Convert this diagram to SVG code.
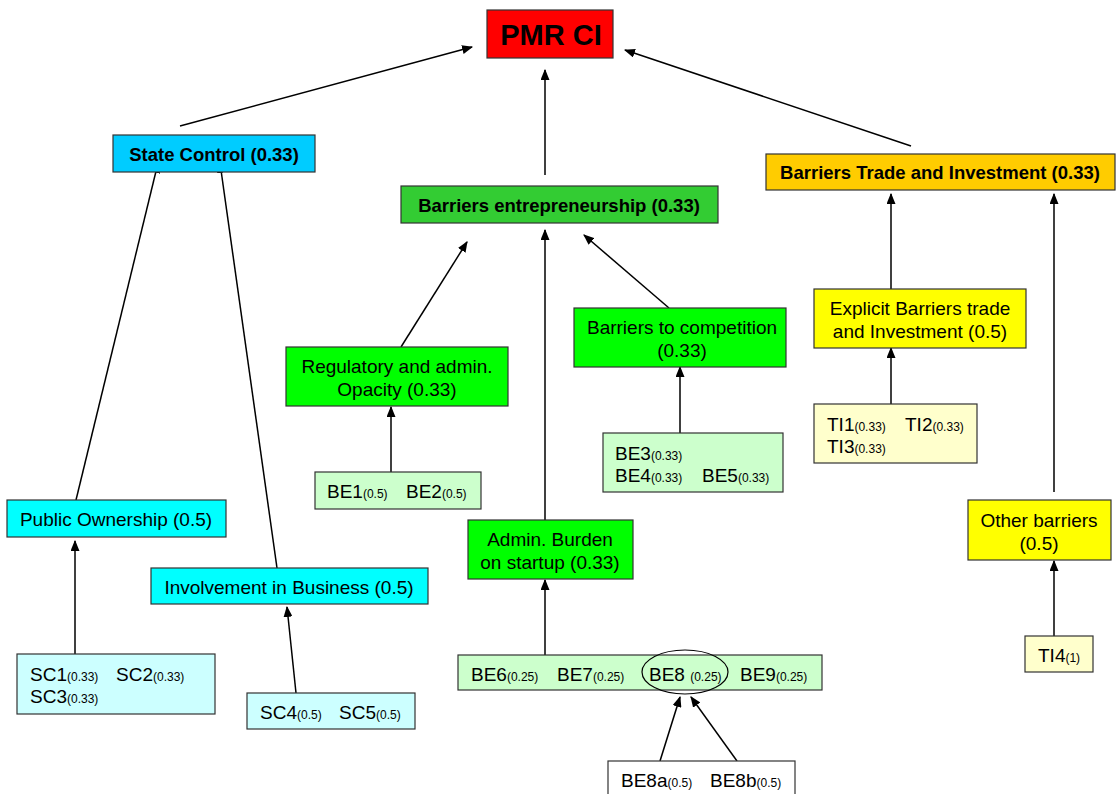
<svg xmlns="http://www.w3.org/2000/svg" width="1118" height="794" viewBox="0 0 1118 794">
<defs>
<style>
.box{stroke:#333;stroke-width:1.2}
text{font-family:"Liberation Sans",Arial,sans-serif;fill:#000}
.b{font-weight:bold;font-size:18.5px}
.r{font-size:19px}
.s{font-size:12px}
.c{text-anchor:middle}
.con line{stroke:#000;stroke-width:1.5;marker-end:url(#ah)}
</style>
<marker id="ah" viewBox="0 0 10 10" refX="9" refY="5" markerWidth="11" markerHeight="9" markerUnits="userSpaceOnUse" orient="auto" preserveAspectRatio="none"><path d="M0,0 L10,5 L0,10 z" fill="#000"/></marker>
</defs>
<rect width="1118" height="794" fill="#fff"/>
<g class="con">
<line x1="180" y1="126" x2="472" y2="47"/>
<line x1="545" y1="175" x2="545" y2="70"/>
<line x1="911" y1="146" x2="625" y2="50"/>
<line x1="76" y1="500" x2="158" y2="163"/>
<line x1="277" y1="568" x2="220" y2="163"/>
<line x1="401" y1="347" x2="467" y2="242"/>
<line x1="545" y1="520" x2="545" y2="230"/>
<line x1="669" y1="308" x2="584" y2="235"/>
<line x1="891" y1="289" x2="891" y2="194"/>
<line x1="1054" y1="492" x2="1054" y2="194"/>
<line x1="391" y1="472" x2="391" y2="407"/>
<line x1="680" y1="433" x2="680" y2="367"/>
<line x1="891" y1="404" x2="891" y2="348"/>
<line x1="1054" y1="636" x2="1054" y2="561"/>
<line x1="75" y1="654" x2="75" y2="541"/>
<line x1="296" y1="693" x2="287" y2="607"/>
<line x1="545" y1="655" x2="545" y2="580"/>
<line x1="660" y1="761" x2="680" y2="697"/>
<line x1="737" y1="761" x2="691" y2="697"/>
</g>
<g id="pmr"><rect class="box" x="487" y="10" width="126" height="48" fill="#FF0000"/><text x="551" y="45" class="c" font-size="29" font-weight="bold">PMR CI</text></g>
<g id="state"><rect class="box" x="113" y="135" width="202" height="37" fill="#00CCFF"/><text x="214" y="161" class="b c">State Control (0.33)</text></g>
<g id="entre"><rect class="box" x="401" y="186" width="317" height="37" fill="#33CC33"/><text x="559" y="212" class="b c">Barriers entrepreneurship (0.33)</text></g>
<g id="bti"><rect class="box" x="766" y="154" width="349" height="36" fill="#FFCC00"/><text x="940" y="179" class="b c">Barriers Trade and Investment (0.33)</text></g>
<g id="reg"><rect class="box" x="286" y="347" width="222" height="59" fill="#00FF00"/><text x="397" y="373" class="r c">Regulatory and admin.</text><text x="397" y="396" class="r c">Opacity (0.33)</text></g>
<g id="be12"><rect class="box" x="315" y="472" width="166" height="37" fill="#CCFFCC"/><text x="327" y="498" class="r">BE1<tspan class="s">(0.5)</tspan></text><text x="406" y="498" class="r">BE2<tspan class="s">(0.5)</tspan></text></g>
<g id="comp"><rect class="box" x="574" y="308" width="212" height="59" fill="#00FF00"/><text x="682" y="334" class="r c">Barriers to competition</text><text x="682" y="357" class="r c">(0.33)</text></g>
<g id="be345"><rect class="box" x="603" y="433" width="180" height="59" fill="#CCFFCC"/><text x="615" y="460" class="r">BE3<tspan class="s">(0.33)</tspan></text><text x="615" y="482" class="r">BE4<tspan class="s">(0.33)</tspan></text><text x="702" y="482" class="r">BE5<tspan class="s">(0.33)</tspan></text></g>
<g id="expl"><rect class="box" x="814" y="289" width="212" height="59" fill="#FFFF00"/><text x="920" y="315" class="r c">Explicit Barriers trade</text><text x="920" y="338" class="r c">and Investment (0.5)</text></g>
<g id="ti123"><rect class="box" x="814" y="404" width="163" height="59" fill="#FFFFCC"/><text x="827" y="431" class="r">TI1<tspan class="s">(0.33)</tspan></text><text x="905" y="431" class="r">TI2<tspan class="s">(0.33)</tspan></text><text x="827" y="453" class="r">TI3<tspan class="s">(0.33)</tspan></text></g>
<g id="other"><rect class="box" x="968" y="500" width="143" height="60" fill="#FFFF00"/><text x="1039" y="527" class="r c">Other barriers</text><text x="1039" y="550" class="r c">(0.5)</text></g>
<g id="ti4"><rect class="box" x="1025" y="636" width="68" height="36" fill="#FFFFCC"/><text x="1038" y="662" class="r">TI4<tspan class="s">(1)</tspan></text></g>
<g id="pub"><rect class="box" x="7" y="500" width="219" height="37" fill="#00FFFF"/><text x="116" y="526" class="r c">Public Ownership (0.5)</text></g>
<g id="inv"><rect class="box" x="151" y="568" width="277" height="36" fill="#00FFFF"/><text x="289" y="594" class="r c">Involvement in Business (0.5)</text></g>
<g id="sc123"><rect class="box" x="17" y="654" width="198" height="60" fill="#CCFFFF"/><text x="30" y="681" class="r">SC1<tspan class="s">(0.33)</tspan></text><text x="116" y="681" class="r">SC2<tspan class="s">(0.33)</tspan></text><text x="30" y="703" class="r">SC3<tspan class="s">(0.33)</tspan></text></g>
<g id="sc45"><rect class="box" x="247" y="693" width="168" height="36" fill="#CCFFFF"/><text x="260" y="719" class="r">SC4<tspan class="s">(0.5)</tspan></text><text x="339" y="719" class="r">SC5<tspan class="s">(0.5)</tspan></text></g>
<g id="admin"><rect class="box" x="468" y="520" width="165" height="59" fill="#00FF00"/><text x="550" y="546" class="r c">Admin. Burden</text><text x="550" y="569" class="r c">on startup (0.33)</text></g>
<g id="be6789"><rect class="box" x="458" y="655" width="364" height="35" fill="#CCFFCC"/><text x="471" y="681" class="r">BE6<tspan class="s">(0.25)</tspan></text><text x="557" y="681" class="r">BE7<tspan class="s">(0.25)</tspan></text><text x="649" y="681" class="r">BE8 <tspan class="s">(0.25)</tspan></text><text x="740" y="681" class="r">BE9<tspan class="s">(0.25)</tspan></text><ellipse cx="685" cy="672" rx="43" ry="22" fill="none" stroke="#000" stroke-width="1.2"/></g>
<g id="be8ab"><rect class="box" x="608" y="761" width="187" height="40" fill="#FFFFFF"/><text x="621" y="787" class="r">BE8a<tspan class="s">(0.5)</tspan></text><text x="710" y="787" class="r">BE8b<tspan class="s">(0.5)</tspan></text></g>
</svg>
